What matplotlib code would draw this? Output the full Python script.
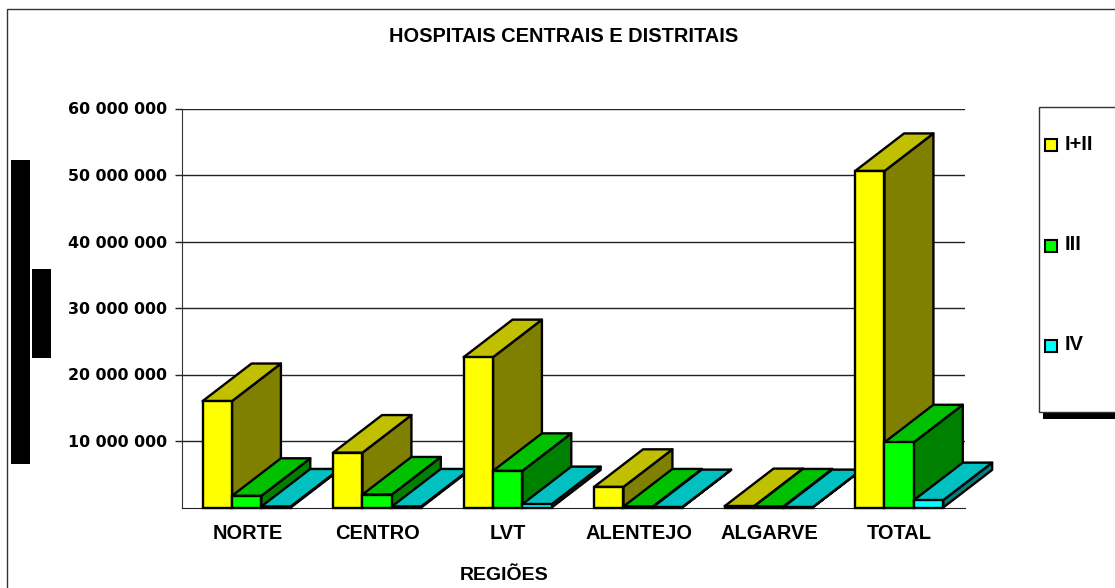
import matplotlib
matplotlib.use('Agg')
import matplotlib.pyplot as plt
from matplotlib.patches import Rectangle
import numpy as np

regions = ['NORTE', 'CENTRO', 'LVT', 'ALENTEJO', 'ALGARVE', 'TOTAL']
yticks = [10000000, 20000000, 30000000, 40000000, 50000000, 60000000]
ytick_labels = ['10 000 000', '20 000 000', '30 000 000', '40 000 000', '50 000 000', '60 000 000']
series_names = ['I+II', 'III', 'IV']
v_1_2 = [16000000, 8250000, 22600000, 3100000, 200000, 50600000]
v_3 = [1750000, 1950000, 5500000, 150000, 150000, 9800000]
v_4 = [150000, 150000, 500000, 50000, 50000, 1100000]

W, H = 1115, 588
plt.rcParams['font.family'] = ['Liberation Sans', 'DejaVu Sans']
plt.rcParams['font.weight'] = 'bold'

fig = plt.figure(figsize=(W / 100, H / 100), dpi=100)
ax = fig.add_axes([182 / W, 1 - 507.5 / H, (965 - 182) / W, 399 / H])
ax.patch.set_visible(False)
ax.set_xlim(0, 6)
ax.set_ylim(0, 60000000)

# depth of the fake 3d boxes, in data units
dx = 0.375
dy = 5650000
bar_w = 0.225
start = 0.158
lw = 1.7

styles = [('#ffff00', '#c0c000', '#808000'),
          ('#00ff00', '#00c000', '#008000'),
          ('#00ffff', '#00c0c0', '#008080')]
series = [v_1_2, v_3, v_4]

z = 5
for i in range(len(regions)):
    for j, vals in enumerate(series):
        x0 = i + start + j * bar_w
        x1 = x0 + bar_w
        h = vals[i]
        front, top, side = styles[j]
        ax.fill([x1, x1 + dx, x1 + dx, x1], [0, dy, h + dy, h], facecolor=side,
                edgecolor='black', lw=lw, zorder=z, clip_on=False, joinstyle='round')
        ax.fill([x0, x1, x1 + dx, x0 + dx], [h, h, h + dy, h + dy], facecolor=top,
                edgecolor='black', lw=lw, zorder=z + 1, clip_on=False, joinstyle='round')
        ax.bar(x0, h, bar_w, align='edge', color=front, edgecolor='black', lw=lw,
               zorder=z + 2, clip_on=False)
        z += 3

ax.set_yticks(yticks)
ax.set_yticklabels(ytick_labels, fontsize=11.4, fontweight='bold', family='DejaVu Sans')
ax.set_xticks(np.arange(len(regions)) + 0.5)
ax.set_xticklabels(regions, fontsize=14.4, fontweight='bold')
ax.tick_params(axis='x', length=0, pad=12)
ax.tick_params(axis='y', length=5, width=1, pad=5.8, color='#222222')
ax.grid(axis='y', color='#222222', lw=1)
ax.set_axisbelow(True)
ax.spines['top'].set_visible(False)
ax.spines['right'].set_visible(False)
ax.spines['left'].set_color('#333333')
ax.spines['bottom'].set_color('#222222')


def px_rect(x0, y0, x1, y1, **kw):
    fig.add_artist(Rectangle((x0 / W, 1 - y1 / H), (x1 - x0) / W, (y1 - y0) / H,
                             transform=fig.transFigure, **kw))


def px_text(x, y, s, **kw):
    fig.text(x / W, 1 - y / H, s, fontweight='bold', **kw)


# outer chart frame, runs off the right and bottom of the picture
px_rect(7, 9, W + 10, H + 10, facecolor='none', edgecolor='#333333', lw=1)

px_text(563.5, 37, 'HOSPITAIS CENTRAIS E DISTRITAIS', fontsize=14.4, ha='center', va='center')
px_text(504.5, 575, 'REGIÕES', fontsize=14, ha='center', va='center')

# black blocks at the left
px_rect(11, 160, 30, 464, facecolor='black', edgecolor='none')
px_rect(32, 269, 51, 358, facecolor='black', edgecolor='none')

# legend
px_rect(1043, 412, W + 10, 419, facecolor='black', edgecolor='none')
px_rect(1039, 107, W + 10, 412, facecolor='white', edgecolor='#333333', lw=1)
legend_y = [145, 245.5, 346]
for name, st, y in zip(series_names, styles, legend_y):
    px_rect(1045, y - 6, 1057, y + 6, facecolor=st[0], edgecolor='black', lw=1.5)
    px_text(1065, y - 1, name, fontsize=14.4, ha='left', va='center')

fig.savefig('out.png', dpi=100)
